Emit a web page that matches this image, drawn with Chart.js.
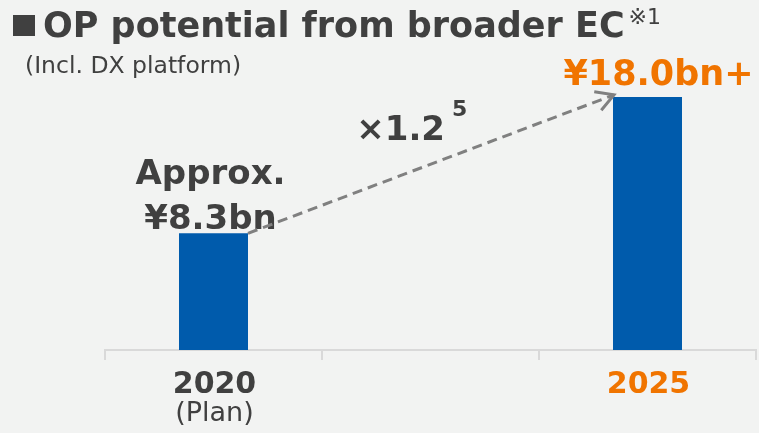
<!DOCTYPE html>
<html>
<head>
<meta charset="utf-8">
<script src="https://cdn.jsdelivr.net/npm/chart.js@4"></script>
<style>
  html, body { margin: 0; padding: 0; background: #f2f3f2; }
  canvas { display: block; }
</style>
</head>
<body>
<canvas id="chart" width="759" height="433"></canvas>
<script>
// data
const categories = ["2020", "", "2025"];
const subLabels = ["(Plan)", "", ""];
const opValues = [8.3, null, 18.0];
const valueLabels = [["Approx.", "¥8.3bn"], null, ["¥18.0bn+"]];
const growthLabel = "×1.2";
const growthExp = "5";
const titleText = "OP potential from broader EC";
const titleNote = "※1";
const subtitleText = "(Incl. DX platform)";

const DARK = "#404040";
const ORANGE = "#f07400";
const BLUE = "#005bac";
const FONT = '"DejaVu Sans", "Noto Sans CJK JP", sans-serif';

const overlay = {
  id: "overlay",
  beforeDraw(chart) {
    const ctx = chart.ctx;
    ctx.save();
    ctx.fillStyle = "#f2f3f2";
    ctx.fillRect(0, 0, chart.width, chart.height);
    ctx.restore();
  },
  afterDraw(chart) {
    const ctx = chart.ctx;
    const xs = chart.scales.x;
    const bars = chart.getDatasetMeta(0).data;
    ctx.save();

    // title block
    ctx.fillStyle = DARK;
    ctx.fillRect(13, 15, 22, 21);
    ctx.textAlign = "left";
    ctx.textBaseline = "alphabetic";
    ctx.font = "bold 35px " + FONT;
    ctx.fillText(titleText, 43, 37);
    const tw = ctx.measureText(titleText).width;
    ctx.font = "22px " + FONT;
    ctx.fillText(titleNote, 43 + tw + 4, 24);
    ctx.font = "23.5px " + FONT;
    ctx.fillText(subtitleText, 25, 73);

    // category labels
    ctx.textAlign = "center";
    categories.forEach((c, i) => {
      if (!c) return;
      const px = xs.getPixelForValue(i);
      ctx.font = "bold 30px " + FONT;
      ctx.fillStyle = i === categories.length - 1 ? ORANGE : DARK;
      ctx.fillText(c, px + 1, 393);
      if (subLabels[i]) {
        ctx.font = "27px " + FONT;
        ctx.fillStyle = DARK;
        ctx.fillText(subLabels[i], px + 1, 421);
      }
    });

    // value labels
    const first = bars[0], last = bars[bars.length - 1];
    ctx.font = "bold 34px " + FONT;
    ctx.fillStyle = DARK;
    ctx.fillText(valueLabels[0][0], first.x - 3, first.y - 49);
    ctx.fillText(valueLabels[0][1], first.x - 3, first.y - 4);
    ctx.font = "bold 35px " + FONT;
    ctx.fillStyle = ORANGE;
    ctx.fillText(valueLabels[2][0], last.x + 11, last.y - 12);

    // dashed growth arrow
    const x0 = first.x + first.width / 2, y0 = first.y;
    const x1 = last.x - last.width / 2 + 1, y1 = last.y - 2;
    ctx.strokeStyle = "#808080";
    ctx.lineWidth = 3;
    ctx.setLineDash([10, 6]);
    ctx.beginPath();
    ctx.moveTo(x0, y0);
    ctx.lineTo(x1, y1);
    ctx.stroke();
    ctx.setLineDash([]);
    const ang = Math.atan2(y0 - y1, x0 - x1);
    ctx.beginPath();
    ctx.moveTo(x1 + 20 * Math.cos(ang + 0.52), y1 + 20 * Math.sin(ang + 0.52));
    ctx.lineTo(x1, y1);
    ctx.lineTo(x1 + 20 * Math.cos(ang - 0.52), y1 + 20 * Math.sin(ang - 0.52));
    ctx.stroke();

    // growth multiplier
    const mx = (x0 + x1) / 2, my = (y0 + y1) / 2;
    ctx.fillStyle = DARK;
    ctx.textAlign = "right";
    ctx.font = "bold 34px " + FONT;
    ctx.fillText(growthLabel, mx + 14, my - 24);
    ctx.textAlign = "left";
    ctx.font = "bold 22px " + FONT;
    ctx.fillText(growthExp, mx + 21, my - 48);

    ctx.restore();
  }
};

new Chart(document.getElementById("chart"), {
  type: "bar",
  data: {
    labels: categories,
    datasets: [{
      data: opValues,
      backgroundColor: BLUE,
      barPercentage: 0.318,
      categoryPercentage: 1
    }]
  },
  options: {
    responsive: false,
    animation: false,
    layout: { padding: { left: 105, right: 3, top: 80, bottom: 73 } },
    plugins: { legend: { display: false }, tooltip: { enabled: false } },
    scales: {
      x: {
        ticks: { display: false },
        grid: { drawOnChartArea: false, drawTicks: true, tickLength: 10, color: "#d9d9d9", lineWidth: 2 },
        border: { display: true, color: "#d9d9d9", width: 2 }
      },
      y: { display: false, min: 0, max: 19.2 }
    }
  },
  plugins: [overlay]
});
</script>
</body>
</html>
